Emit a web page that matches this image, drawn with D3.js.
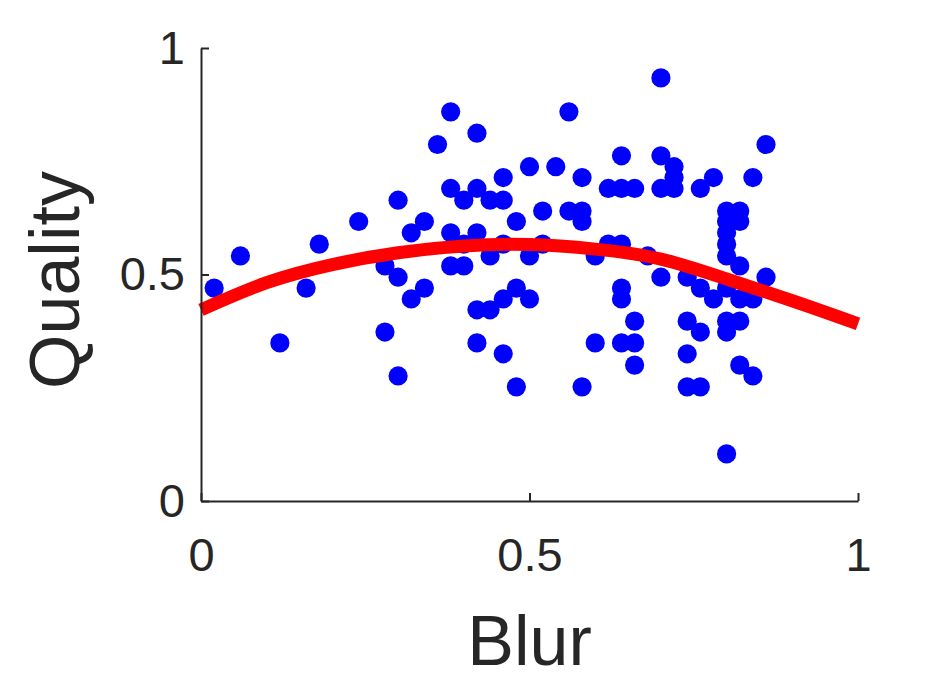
<!DOCTYPE html>
<html>
<head>
<meta charset="utf-8">
<script src="https://cdn.jsdelivr.net/npm/d3@7"></script>
<style>
html, body { margin: 0; padding: 0; background: #fff; }
svg { display: block; }
text { font-family: "Liberation Sans", Arial, Helvetica, sans-serif; fill: #262626; }
</style>
</head>
<body>
<svg id="chart" width="952" height="683"></svg>
<script>
// Scatter data: Blur (x) and Quality (y)
const blurValues = [
  0.02, 0.06, 0.12, 0.16, 0.18, 0.24,
  0.28, 0.28,
  0.30, 0.30, 0.30,
  0.32, 0.32,
  0.34, 0.34,
  0.36,
  0.38, 0.38, 0.38, 0.38,
  0.40, 0.40, 0.40,
  0.42, 0.42, 0.42, 0.42, 0.42,
  0.44, 0.44, 0.44,
  0.46, 0.46, 0.46, 0.46, 0.46,
  0.48, 0.48, 0.48,
  0.50, 0.50, 0.50,
  0.52, 0.52,
  0.54,
  0.56, 0.56,
  0.58, 0.58, 0.58, 0.58,
  0.60, 0.60,
  0.62, 0.62,
  0.64, 0.64, 0.64, 0.64, 0.64, 0.64,
  0.66, 0.66, 0.66, 0.66,
  0.68,
  0.70, 0.70, 0.70, 0.70,
  0.72, 0.72, 0.72,
  0.74, 0.74, 0.74, 0.74,
  0.76, 0.76, 0.76, 0.76,
  0.78, 0.78,
  0.80, 0.80, 0.80, 0.80, 0.80, 0.80, 0.80, 0.80, 0.80,
  0.82, 0.82, 0.82, 0.82, 0.82, 0.82,
  0.84, 0.84, 0.84,
  0.86, 0.86
];
const qualityValues = [
  0.470, 0.541, 0.349, 0.470, 0.567, 0.617,
  0.519, 0.373,
  0.664, 0.494, 0.276,
  0.592, 0.446,
  0.617, 0.470,
  0.787,
  0.859, 0.690, 0.592, 0.519,
  0.664, 0.567, 0.519,
  0.812, 0.690, 0.592, 0.422, 0.349,
  0.664, 0.541, 0.422,
  0.714, 0.664, 0.567, 0.446, 0.325,
  0.617, 0.470, 0.252,
  0.738, 0.541, 0.446,
  0.640, 0.567,
  0.738,
  0.859, 0.640,
  0.714, 0.640, 0.617, 0.252,
  0.541, 0.349,
  0.690, 0.567,
  0.762, 0.690, 0.567, 0.470, 0.446, 0.349,
  0.690, 0.397, 0.349, 0.300,
  0.541,
  0.934, 0.762, 0.690, 0.494,
  0.738, 0.714, 0.690,
  0.494, 0.397, 0.325, 0.252,
  0.690, 0.470, 0.373, 0.252,
  0.714, 0.446,
  0.640, 0.617, 0.592, 0.567, 0.541, 0.470, 0.397, 0.373, 0.104,
  0.640, 0.617, 0.519, 0.446, 0.397, 0.300,
  0.714, 0.446, 0.276,
  0.787, 0.494
];

// Fitted curve
const fitBlur    = [0.0,   0.1,   0.2,   0.3,   0.4,   0.5,   0.6,   0.7,   0.8,   0.9,   1.0];
const fitQuality = [0.422, 0.482, 0.522, 0.548, 0.563, 0.566, 0.556, 0.534, 0.490, 0.442, 0.391];

const xTicks = [0, 0.5, 1];
const yTicks = [0, 0.5, 1];
const xTickLabels = ["0", "0.5", "1"];
const yTickLabels = ["0", "0.5", "1"];
const xLabel = "Blur";
const yLabel = "Quality";

const svg = d3.select("#chart");
const plotLeft = 201, plotRight = 858, plotTop = 48, plotBottom = 501;
const axisColor = "#262626";

const x = d3.scaleLinear().domain([0, 1]).range([plotLeft, plotRight]);
const y = d3.scaleLinear().domain([0, 1]).range([plotBottom, plotTop]);

// Points
const pts = blurValues.map((b, i) => ({ b, q: qualityValues[i] }));
svg.append("g").selectAll("circle").data(pts).join("circle")
  .attr("cx", d => x(d.b))
  .attr("cy", d => y(d.q))
  .attr("r", 9.6)
  .attr("fill", "#0000ff");

// Fit line
const fit = fitBlur.map((b, i) => ({ b, q: fitQuality[i] }));
svg.append("path")
  .datum(fit)
  .attr("fill", "none")
  .attr("stroke", "#ff0000")
  .attr("stroke-width", 13)
  .attr("stroke-linecap", "butt")
  .attr("d", d3.line().x(d => x(d.b)).y(d => y(d.q)).curve(d3.curveNatural));

// Axes (MATLAB style, ticks inward)
const xAxis = d3.axisBottom(x).tickValues(xTicks).tickSizeInner(-8).tickSizeOuter(0)
  .tickFormat((d, i) => xTickLabels[i]).tickPadding(37);
const gx = svg.append("g").attr("transform", `translate(0,${plotBottom})`).call(xAxis);
gx.select(".domain").attr("stroke", axisColor).attr("stroke-width", 2);
gx.selectAll(".tick line").attr("stroke", axisColor).attr("stroke-width", 2);
gx.selectAll(".tick text").attr("font-size", 47).attr("fill", axisColor)
  .attr("font-family", "Liberation Sans, Arial, sans-serif");

const yAxis = d3.axisLeft(y).tickValues(yTicks).tickSizeInner(-8).tickSizeOuter(0)
  .tickFormat((d, i) => yTickLabels[i]).tickPadding(16);
const gy = svg.append("g").attr("transform", `translate(${plotLeft},0)`).call(yAxis);
gy.select(".domain").attr("stroke", axisColor).attr("stroke-width", 2);
gy.selectAll(".tick line").attr("stroke", axisColor).attr("stroke-width", 2);
gy.selectAll(".tick text").attr("font-size", 47).attr("fill", axisColor)
  .attr("font-family", "Liberation Sans, Arial, sans-serif");

// Axis labels
svg.append("text")
  .attr("x", (plotLeft + plotRight) / 2)
  .attr("y", 665)
  .attr("text-anchor", "middle")
  .attr("font-size", 70)
  .text(xLabel);

svg.append("text")
  .attr("transform", `translate(79,280) rotate(-90)`)
  .attr("text-anchor", "middle")
  .attr("font-size", 70)
  .text(yLabel);
</script>
</body>
</html>
